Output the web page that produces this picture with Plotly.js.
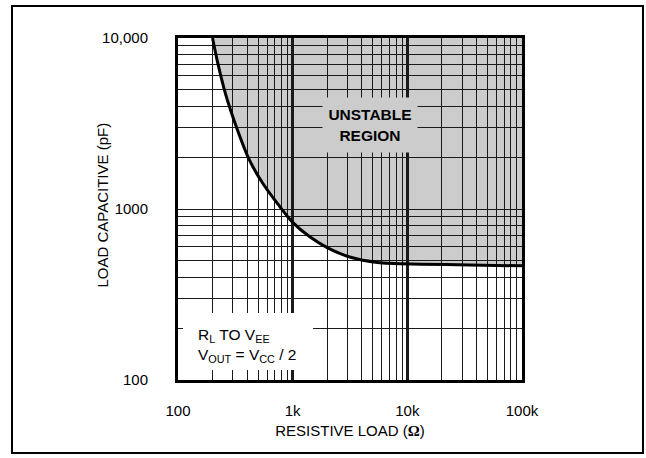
<!DOCTYPE html>
<html>
<head>
<meta charset="utf-8">
<script src="https://cdn.plot.ly/plotly-3.0.1.min.js"></script>
<style>html,body{margin:0;padding:0;background:#fff;}</style>
</head>
<body>
<div id="chart" style="width:646px;height:458px;"></div>
<script>
// Stability boundary: resistive load (ohms) vs. load capacitance (pF)
const resistiveLoad   = [200, 222, 260, 330, 420, 550, 750, 1000, 1400, 2000, 3200, 5500, 13000, 35000, 100000];
const loadCapacitance = [10000, 7150, 4700, 2900, 1930, 1410, 1060, 835, 690, 595, 522, 487, 476, 471, 465];

// Axis ticks
const xTickVals = [100, 1000, 10000, 100000];
const xTickText = ['100', '1k', '10k', '100k'];
const yTickVals = [100, 1000, 10000];
const yTickText = ['100', '1000', '10,000'];

const FONT = "'Liberation Sans Narrow', 'Arial Narrow', 'Liberation Sans', Arial, sans-serif";
const xMax = xTickVals[xTickVals.length - 1];
const yMax = yTickVals[yTickVals.length - 1];

// Shaded unstable region: everything above the boundary curve
let regionPath = 'M ' + resistiveLoad.map((r, i) => r + ',' + loadCapacitance[i]).join(' L ');
regionPath += ' L ' + xMax + ',' + yMax + ' L ' + resistiveLoad[0] + ',' + yMax + ' Z';

const boundary = {
  x: resistiveLoad,
  y: loadCapacitance,
  type: 'scatter',
  mode: 'lines',
  line: {color: '#000', width: 3, shape: 'spline', smoothing: 0.8},
  hoverinfo: 'skip',
  showlegend: false
};

const gridColor = '#1a1a1a';

const layout = {
  width: 646,
  height: 458,
  margin: {l: 178, r: 124, t: 38, b: 78},
  paper_bgcolor: '#fff',
  plot_bgcolor: '#fff',
  font: {family: FONT, size: 15, color: '#000'},
  showlegend: false,
  xaxis: {
    type: 'log',
    range: [2, 5],
    tickmode: 'array',
    tickvals: xTickVals,
    ticktext: xTickText,
    ticks: '',
    ticklabelstandoff: 15,
    tickfont: {family: FONT, size: 15},
    showline: true, linecolor: '#000', linewidth: 3, mirror: true,
    showgrid: true, gridcolor: gridColor, gridwidth: 3,
    zeroline: false,
    minor: {dtick: 'D1', showgrid: true, gridcolor: gridColor, gridwidth: 1, ticks: ''},
    title: {
      text: "RESISTIVE LOAD (<span style=\"font-family:'Liberation Serif',serif;font-weight:bold\">Ω</span>)",
      font: {family: FONT, size: 15},
      standoff: 8
    },
    fixedrange: true
  },
  yaxis: {
    type: 'log',
    range: [2, 4],
    tickmode: 'array',
    tickvals: yTickVals,
    ticktext: yTickText,
    ticks: '',
    ticklabelstandoff: 24,
    tickfont: {family: FONT, size: 15},
    showline: true, linecolor: '#000', linewidth: 3, mirror: true,
    showgrid: true, gridcolor: gridColor, gridwidth: 1,
    zeroline: false,
    minor: {dtick: 'D1', showgrid: true, gridcolor: gridColor, gridwidth: 1, ticks: ''},
    fixedrange: true
  },
  shapes: [
    // unstable region fill, beneath the grid
    {type: 'path', xref: 'x', yref: 'y', path: regionPath,
     fillcolor: '#cccccc', line: {width: 0}, layer: 'below'},
    // white backing for the condition note
    {type: 'rect', xref: 'paper', yref: 'paper',
     x0: 0.0145, x1: 0.3924, y0: 0.0292, y1: 0.1959,
     fillcolor: '#fff', line: {width: 0}, layer: 'above'},
    // outer frame
    {type: 'rect', xref: 'paper', yref: 'paper',
     x0: -0.4826, x1: 1.3517, y0: -0.2135, y1: 1.0936,
     fillcolor: 'rgba(0,0,0,0)', line: {color: '#000', width: 2}, layer: 'above'}
  ],
  annotations: [
    // vertical axis title, set close to the tick labels
    {xref: 'paper', yref: 'paper', x: -0.218, y: 0.51,
     xanchor: 'center', yanchor: 'middle', textangle: -90,
     text: 'LOAD CAPACITIVE (pF)', showarrow: false,
     font: {family: FONT, size: 15, color: '#000'}},
    {xref: 'paper', yref: 'paper', x: 0.558, y: 0.7456,
     xanchor: 'center', yanchor: 'middle',
     text: '<b>UNSTABLE<br>REGION</b>', showarrow: false,
     font: {family: FONT, size: 15.5, color: '#000'},
     bgcolor: '#cccccc', borderpad: 0, width: 94, height: 54},
    {xref: 'paper', yref: 'paper', x: 0.0523, y: 0.1023,
     xanchor: 'left', yanchor: 'middle', align: 'left',
     text: 'R<sub>L</sub> TO V<sub>EE</sub><br>V<sub>OUT</sub> = V<sub>CC</sub> / 2',
     showarrow: false,
     font: {family: FONT, size: 15.5, color: '#000'}}
  ]
};

Plotly.newPlot('chart', [boundary], layout, {staticPlot: true, displayModeBar: false});
</script>
</body>
</html>
